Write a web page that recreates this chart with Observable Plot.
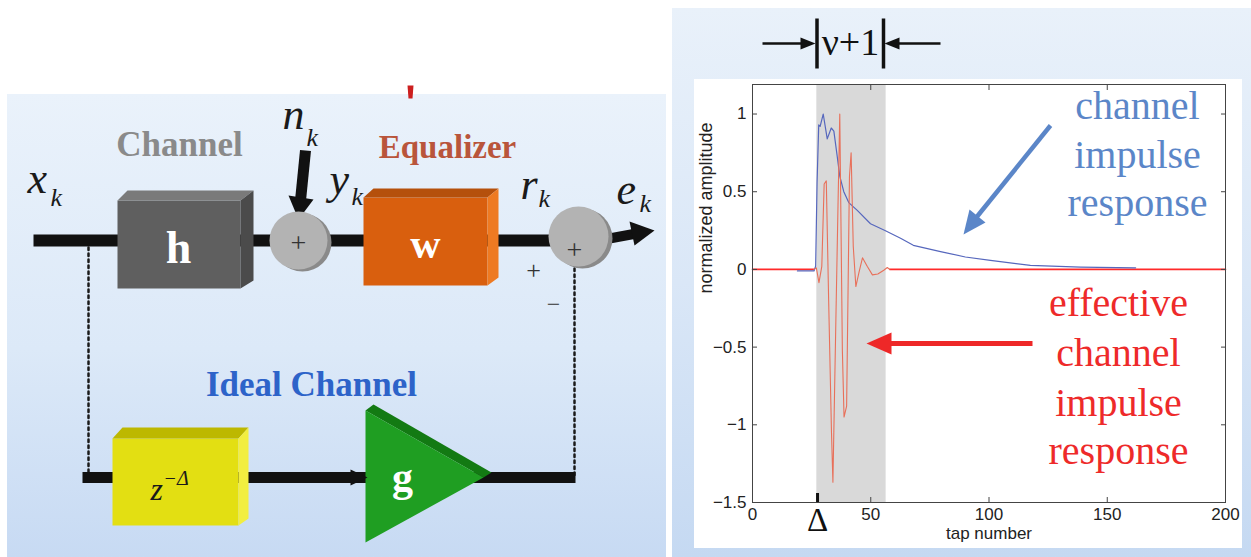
<!DOCTYPE html>
<html><head><meta charset="utf-8">
<script src="https://cdn.jsdelivr.net/npm/d3@7"></script>
<script src="https://cdn.jsdelivr.net/npm/@observablehq/plot@0.6"></script>
<style>
body{margin:0;background:#fff;}
#wrap{position:relative;width:1251px;height:557px;overflow:hidden;background:#fff;}
.panel{position:absolute;}
#leftBg{left:7px;top:94px;width:659px;height:463px;background:linear-gradient(to bottom,#eaf2fb 0%,#dce9f8 55%,#c7daf3 100%);}
#rightBg{left:672px;top:8px;width:579px;height:549px;background:linear-gradient(to bottom,#e9f1fa 0%,#dae7f7 50%,#c5d9f2 100%);}
#whiteBox{left:694px;top:79px;width:548px;height:469px;background:#fff;}
#chart{position:absolute;left:670px;top:0;}
#overlay{position:absolute;left:0;top:0;}
svg{background:transparent !important;}
</style></head>
<body>
<div id="wrap">
  <div class="panel" id="leftBg"></div>
  <div class="panel" id="rightBg"></div>
  <div class="panel" id="whiteBox"></div>
  <div id="chart"></div>
  <div id="overlay"></div>
</div>
<script>
// ---------- chart data ----------
const xTicks = [0, 50, 100, 150, 200];
const yTicks = [-1.5, -1, -0.5, 0, 0.5, 1];
const xDomain = [0, 200];
const yDomain = [-1.5, 1.19];
const bandStart = 27.2;
const bandEnd = 56.5;
const deltaTap = 27.5;

const blueTap = [19, 26, 26.7, 27.3, 28, 28.6, 29.9, 31.6, 33.3, 34.4, 35.8, 36.9, 38.6, 40.7, 44.3, 49.9, 56, 62.6, 68, 79.5, 90, 100.6, 117.5, 138.7, 162];
const blueVal = [-0.01, -0.01, 0.02, 0.56, 0.93, 0.92, 1.0, 0.84, 0.91, 0.89, 0.73, 0.6, 0.5, 0.43, 0.38, 0.294, 0.25, 0.2, 0.155, 0.115, 0.08, 0.058, 0.026, 0.015, 0.01];

const redFlatTap = [0, 26, 58, 200];
const redFlatVal = [0, 0, 0, 0];
const redTap = [26, 27, 28.1, 29.3, 30.3, 31.2, 32.2, 33.4, 34, 35.2, 36.2, 36.9, 38, 38.7, 39.8, 41, 41.7, 42.6, 43.7, 45, 46.5, 48.5, 50.7, 53, 55.5, 57, 58];
const redVal = [0, 0.01, -0.085, 0.02, 0.55, 0.57, -0.2, -1.05, -1.37, -0.37, 0.45, 1.0, -0.52, -0.95, -0.88, 0.6, 0.75, 0.15, -0.11, -0.02, 0.075, 0.02, -0.035, -0.03, -0.005, 0.012, 0];

const xLabel = "tap number";
const yLabel = "normalized amplitude";

const blue = blueTap.map((t, i) => ({tap: t, v: blueVal[i]}));
const red = redTap.map((t, i) => ({tap: t, v: redVal[i]}));
const redFlat = [
  redFlatTap.slice(0, 2).map((t, i) => ({tap: t, v: redFlatVal[i], seg: "a"})),
  redFlatTap.slice(2).map((t, i) => ({tap: t, v: redFlatVal[i + 2], seg: "b"}))
].flat();

const fmt = d => (d < 0 ? "\u2212" + Math.abs(d) : String(d));
const sans = "'Liberation Sans', Arial, sans-serif";
const serif = "'Liberation Serif', 'DejaVu Serif', serif";

const chart = Plot.plot({
  width: 581, height: 557,
  marginLeft: 82, marginRight: 26, marginTop: 84, marginBottom: 55,
  x: {domain: xDomain, label: null},
  y: {domain: yDomain, label: null},
  style: {background: "transparent"},
  marks: [
    Plot.rect([{s: bandStart, e: bandEnd}], {x1: "s", x2: "e", fill: "#d9d9d9"}),
    Plot.line(redFlat, {x: "tap", y: "v", z: "seg", stroke: "#ff2a2a", strokeWidth: 1.6}),
    Plot.line(blue, {x: "tap", y: "v", stroke: "#5667bd", strokeWidth: 1.2}),
    Plot.line(red, {x: "tap", y: "v", stroke: "#e8705a", strokeWidth: 1.1}),
    Plot.frame({stroke: "#444", strokeWidth: 1}),
    // inward ticks on all four sides
    Plot.axisX({anchor: "bottom", ticks: xTicks, tickSize: 5, dy: -5, tickFormat: () => "", label: null, stroke: "#444"}),
    Plot.axisX({anchor: "top", ticks: xTicks, tickSize: 5, dy: 5, tickFormat: () => "", label: null, stroke: "#444"}),
    Plot.axisY({anchor: "left", ticks: yTicks, tickSize: 5, dx: 5, tickFormat: () => "", label: null, stroke: "#444"}),
    Plot.axisY({anchor: "right", ticks: yTicks, tickSize: 5, dx: -5, tickFormat: () => "", label: null, stroke: "#444"}),
    // tick labels
    Plot.axisX({anchor: "bottom", ticks: xTicks, tickSize: 0, tickPadding: 5, tickFormat: fmt, label: null, fontSize: 17, fontFamily: sans, fill: "#222"}),
    Plot.axisY({anchor: "left", ticks: yTicks, tickSize: 0, tickPadding: 6, tickFormat: fmt, label: null, fontSize: 17, fontFamily: sans, fill: "#222"}),
    // delta marker
    Plot.axisX({anchor: "bottom", ticks: [deltaTap], tickSize: 9, dy: -9, strokeWidth: 3, stroke: "#111", tickFormat: () => "", label: null}),
    Plot.text(["\u0394"], {x: () => deltaTap, frameAnchor: "bottom", lineAnchor: "top", dy: 5, fontSize: 33, fontFamily: serif, fill: "#111"}),
    // axis titles
    Plot.text([xLabel], {frameAnchor: "bottom", lineAnchor: "top", dy: 24, fontSize: 17, fontFamily: sans, fill: "#222"}),
    Plot.text([yLabel], {frameAnchor: "left", dx: -46, rotate: -90, fontSize: 18, fontFamily: sans, fill: "#222"})
  ]
});
document.getElementById("chart").appendChild(chart);

// ---------- diagram + annotations (page pixel layout) ----------
const boxFaces = [
  // channel h
  {fill: "#5f5f5f", pts: [[117,200],[240,200],[240,288],[117,288]]},
  {fill: "#7a7a7a", pts: [[117,200],[127,190],[253,190],[240,200]]},
  {fill: "#4b4b4b", pts: [[240,200],[253,190],[253,280],[240,288]]},
  // equalizer w
  {fill: "#d95f0e", pts: [[363,197],[487,197],[487,285],[363,285]]},
  {fill: "#b5500c", pts: [[363,197],[373,188],[498,188],[487,197]]},
  {fill: "#ee7a22", pts: [[487,197],[498,188],[498,277],[487,285]]},
  // delay z^-Δ
  {fill: "#e3df12", pts: [[112,438],[238,438],[238,525],[112,525]]},
  {fill: "#bdb800", pts: [[112,438],[122,427],[248,427],[238,438]]},
  {fill: "#f2ee40", pts: [[238,438],[248,427],[248,518],[238,525]]},
  // gain g
  {fill: "#137a13", pts: [[365,410],[373,404],[491,472],[483,477]]},
  {fill: "#1f9e22", pts: [[365,410],[483,477],[365,542]]},
  // arrow heads
  {fill: "#111", pts: [[288,195],[313,199],[298,219]]},
  {fill: "#111", pts: [[629,221],[654,230],[634,245]]},
  {fill: "#111", pts: [[350,469],[367,477],[350,485]]},
  // red fragment at top edge
  {fill: "#cc1f1f", pts: [[407,85],[413,85],[412,98],[408,98]]},
  // chart annotation heads
  {fill: "#111", pts: [[800,37],[815,43],[800,49]]},
  {fill: "#111", pts: [[899,37],[884,43],[899,49]]},
  {fill: "#5b86c8", pts: [[963,234],[985,222],[969,209]]},
  {fill: "#ee2828", pts: [[866,343],[891,332],[891,354]]}
];
const thickLines = [
  {stroke: "#111", w: 12, pts: [[33,240],[600,240]]},
  {stroke: "#111", w: 10, pts: [[598,240],[636,233]]},
  {stroke: "#111", w: 11, pts: [[305,150],[300,200]]},
  {stroke: "#111", w: 11, pts: [[82,477],[575,477]]},
  {stroke: "#111", w: 3.5, pts: [[816.5,18],[816.5,68]]},
  {stroke: "#111", w: 3.5, pts: [[883,18],[883,68]]},
  {stroke: "#111", w: 2.5, pts: [[762,43],[803,43]]},
  {stroke: "#111", w: 2.5, pts: [[940,43],[896,43]]},
  {stroke: "#5b86c8", w: 4.5, pts: [[1050,125],[975,218]]},
  {stroke: "#ee2828", w: 5, pts: [[1032,343],[886,343]]}
];
const dottedLines = [
  [[88,247],[88,477]],
  [[574,262],[574,477]]
];
const summers = [{x: 298, y: 240, r: 29}, {x: 578, y: 236, r: 30}];
const boldLabels = [
  {t: "Channel", x: 179, y: 155, size: 35, fill: "#8a8a8a"},
  {t: "Equalizer", x: 447, y: 157, size: 33, fill: "#b9553b"},
  {t: "Ideal Channel", x: 311, y: 395, size: 35, fill: "#2d63c9"},
  {t: "h", x: 178, y: 262, size: 46, fill: "#ffffff"},
  {t: "w", x: 425, y: 257, size: 42, fill: "#ffffff"},
  {t: "g", x: 402, y: 490, size: 42, fill: "#ffffff"}
];
const plainLabels = [
  {t: "+", x: 298, y: 251, size: 28, fill: "#333"},
  {t: "+", x: 574, y: 258, size: 28, fill: "#333"},
  {t: "+", x: 533, y: 278, size: 26, fill: "#333"},
  {t: "\u2212", x: 553, y: 311, size: 24, fill: "#333"},
  {t: "\u03bd+1", x: 850, y: 54, size: 38, fill: "#111"}
];
const symbols = [
  {t: "x", x: 27, y: 192, size: 44}, {t: "k", x: 50, y: 205, size: 26},
  {t: "n", x: 282, y: 128, size: 44}, {t: "k", x: 306, y: 145, size: 26},
  {t: "y", x: 329, y: 193, size: 44}, {t: "k", x: 351, y: 204, size: 26},
  {t: "r", x: 520, y: 198, size: 44}, {t: "k", x: 538, y: 206, size: 26},
  {t: "e", x: 616, y: 203, size: 44}, {t: "k", x: 639, y: 211, size: 26},
  {t: "z", x: 150, y: 499, size: 32}, {t: "\u2212\u0394", x: 163, y: 484, size: 20}
];
const blueNote = ["channel", "impulse", "response"];
const blueNoteY = [118, 167, 215];
const redNote = ["effective", "channel", "impulse", "response"];
const redNoteY = [315, 365, 415, 463];

const overlay = Plot.plot({
  width: 1251, height: 557,
  margin: 0,
  x: {domain: [0, 1251], range: [0, 1251], axis: null},
  y: {domain: [0, 557], range: [0, 557], axis: null},
  r: {type: "identity"},
  style: {background: "transparent"},
  marks: [
    ...dottedLines.map(p => Plot.line(p, {x: d => d[0], y: d => d[1], stroke: "#1a1a1a", strokeWidth: 2.5, strokeDasharray: "2.5 3.5"})),
    ...thickLines.map(l => Plot.line(l.pts, {x: d => d[0], y: d => d[1], stroke: l.stroke, strokeWidth: l.w, strokeLinecap: "butt"})),
    ...boxFaces.map(p => Plot.line(p.pts, {x: d => d[0], y: d => d[1], fill: p.fill, stroke: "none"})),
    Plot.dot(summers, {x: "x", y: "y", r: "r", fill: "#8a8a8a", dx: 4, dy: 2}),
    Plot.dot(summers, {x: "x", y: "y", r: "r", fill: "#b3b3b3"}),
    Plot.text(boldLabels, {x: "x", y: "y", text: "t", fontSize: d => d.size, fill: "fill", fontWeight: "bold", fontFamily: serif, lineAnchor: "bottom"}),
    Plot.text(plainLabels, {x: "x", y: "y", text: "t", fontSize: d => d.size, fill: "fill", fontFamily: serif, lineAnchor: "bottom"}),
    Plot.text(symbols, {x: "x", y: "y", text: "t", fontSize: d => d.size, fill: "#1a1a1a", fontStyle: "italic", fontFamily: serif, textAnchor: "start", lineAnchor: "bottom"}),
    Plot.text(blueNote, {x: () => 1137, y: (d, i) => blueNoteY[i], fontSize: 40, fill: "#5b86c8", fontFamily: serif, lineAnchor: "bottom"}),
    Plot.text(redNote, {x: () => 1118, y: (d, i) => redNoteY[i], fontSize: 40, fill: "#ee2a2a", fontFamily: serif, lineAnchor: "bottom"})
  ]
});
document.getElementById("overlay").appendChild(overlay);
</script>
</body></html>
